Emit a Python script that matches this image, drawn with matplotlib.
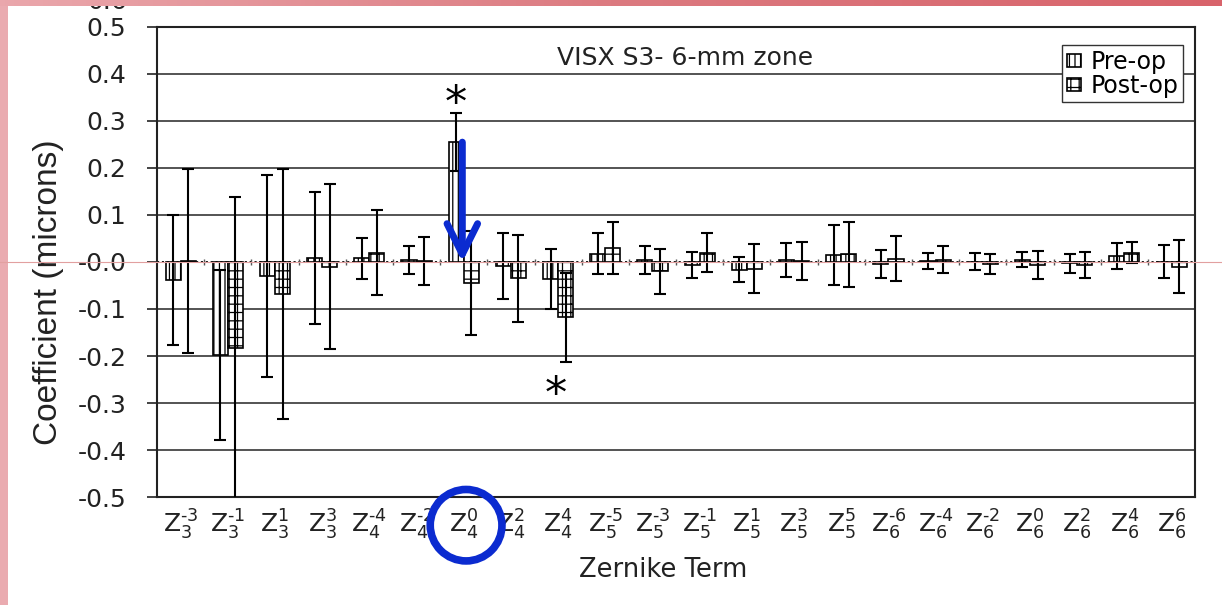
import numpy as np
import matplotlib
matplotlib.use("Agg")
import matplotlib.pyplot as plt
from matplotlib.patches import Patch, Ellipse
from matplotlib.lines import Line2D
from matplotlib.colors import LinearSegmentedColormap
from matplotlib.transforms import offset_copy

plt.rcParams['font.family'] = ['DejaVu Sans']
plt.rcParams['mathtext.fontset'] = 'dejavusans'
plt.rcParams['hatch.linewidth'] = 0.9

# ---------------- data ----------------
orders = [3, 3, 3, 3, 4, 4, 4, 4, 4, 5, 5, 5, 5, 5, 5, 6, 6, 6, 6, 6, 6, 6]
freqs = [-3, -1, 1, 3, -4, -2, 0, 2, 4, -5, -3, -1, 1, 3, 5, -6, -4, -2, 0, 2, 4, 6]
labels = [r'$\mathrm{Z}_{%d}^{\text{%d}}$' % (n, m) for n, m in zip(orders, freqs)]

pre_mean = [-0.038, -0.198, -0.030, 0.009, 0.008, 0.004, 0.255, -0.008, -0.036,
            0.018, 0.004, -0.006, -0.016, 0.004, 0.015, -0.005, 0.003, 0.001,
            0.005, -0.003, 0.013, 0.001]
pre_err = [0.138, 0.180, 0.215, 0.140, 0.044, 0.029, 0.062, 0.070, 0.063,
           0.043, 0.030, 0.028, 0.026, 0.036, 0.064, 0.030, 0.017, 0.018,
           0.016, 0.020, 0.027, 0.035]
post_mean = [0.002, -0.183, -0.068, -0.010, 0.020, 0.002, -0.045, -0.035, -0.118,
             0.030, -0.020, 0.020, -0.014, 0.002, 0.016, 0.007, 0.005, -0.004,
             -0.006, -0.007, 0.020, -0.010]
post_err = [0.196, 0.322, 0.266, 0.175, 0.090, 0.051, 0.110, 0.092, 0.095,
            0.056, 0.048, 0.042, 0.052, 0.040, 0.069, 0.048, 0.029, 0.022,
            0.030, 0.028, 0.023, 0.057]

series_names = ['Pre-op', 'Post-op']
title_text = 'VISX S3- 6-mm zone'
# significance markers: (category index, y value)
star_cat = [6, 8]
star_y = [0.351, -0.268]
yticks = np.round(np.arange(-0.5, 0.51, 0.1), 1)

# ---------------- figure ----------------
fig = plt.figure(figsize=(12.22, 6.05), dpi=100)
fig.patch.set_facecolor('white')
ax = fig.add_axes([0.1285, 0.1785, 0.8495, 0.7769])

x = np.arange(len(labels))
w = 0.32
ax.bar(x - w / 2, pre_mean, width=w, facecolor='white', edgecolor='black',
       hatch='|||', linewidth=1.2, zorder=3)
ax.bar(x + w / 2, post_mean, width=w, facecolor='white', edgecolor='black',
       hatch='++', linewidth=1.2, zorder=3)
ax.errorbar(x - w / 2, pre_mean, yerr=pre_err, fmt='none', ecolor='black',
            elinewidth=1.5, capsize=4, capthick=1.5, zorder=4)
ax.errorbar(x + w / 2, post_mean, yerr=post_err, fmt='none', ecolor='black',
            elinewidth=1.5, capsize=4, capthick=1.5, zorder=4)

ax.set_xlim(-0.5, len(labels) - 0.5)
ax.set_ylim(-0.5, 0.5)
ax.set_yticks(yticks)
ax.set_yticklabels(['%.1f' % v for v in yticks], fontsize=18)
ax.set_xticks(x)
ax.set_xticklabels(labels, fontsize=18)
ax.tick_params(axis='x', length=0, pad=8, colors='#222222')
ax.tick_params(axis='y', direction='out', length=7, width=1.2, pad=15, colors='#222222')

ax.yaxis.grid(True, color='#454545', linewidth=1.3, zorder=1)
ax.set_axisbelow(True)
for v, gl in zip(yticks, ax.get_ygridlines()):
    if abs(v) < 1e-9:
        gl.set_visible(False)
ax.axhline(0, color='black', linestyle=(0, (1.2, 1.5)), linewidth=1.3, zorder=2)
ax.plot(x[:-1] + 0.5, np.zeros(len(x) - 1), ls='none', marker='|', ms=4,
        color='#555555', zorder=2)

for s in ax.spines.values():
    s.set_linewidth(1.5)
    s.set_color('#222222')

ax.set_ylabel('Coefficient (microns)', fontsize=24, family='Liberation Sans',
              color='#222222')
ax.yaxis.set_label_coords(-0.09, 0.436)
ax.set_xlabel('Zernike Term', fontsize=18.5, color='#222222')
ax.xaxis.set_label_coords(0.4875, -0.128)

ax.text(0.509, 0.934, title_text, transform=ax.transAxes, ha='center',
        va='center', fontsize=18, color='#222222')

for c, yv, off in zip(star_cat, star_y, [-w / 2, -0.05]):
    tr = offset_copy(ax.transData, fig=fig, y=-0.45 * 32, units='points')
    ax.text(c + off, yv, '*', ha='center', va='baseline', fontsize=32,
            transform=tr)

handles = [Patch(facecolor='white', edgecolor='black', hatch='|||', lw=1.2),
           Patch(facecolor='white', edgecolor='black', hatch='++', lw=1.2)]
leg = ax.legend(handles, series_names, loc='upper right',
                bbox_to_anchor=(0.9884, 0.9617), borderaxespad=0,
                borderpad=0.2, labelspacing=0.0, handlelength=0.6,
                handleheight=0.45, handletextpad=0.4, fontsize=17,
                fancybox=False, framealpha=1, edgecolor='#333333')
leg.get_frame().set_linewidth(1.0)
leg.set_zorder(6)

# ---------------- blue annotations ----------------
blue = '#0b2bd0'
ax.annotate('', xy=(6 - 0.03, 0.0), xytext=(6 - 0.03, pre_mean[6]),
            arrowprops=dict(arrowstyle='->,head_length=1.1,head_width=0.55',
                            color=blue, lw=5, mutation_scale=20,
                            shrinkA=0, shrinkB=0), zorder=8)
circ = Ellipse((6.05, -0.06), width=1.52, height=0.152,
               transform=ax.get_xaxis_transform(), fill=False,
               edgecolor=blue, linewidth=5.5, clip_on=False, zorder=8)
ax.add_patch(circ)

# ---------------- frame decoration (pink border) ----------------
fig.text(0.104, 0.985, '0.6', fontsize=18, ha='right', va='baseline',
         color='#222222', zorder=1)
top = fig.add_axes([0, 1 - 6 / 605, 1, 6 / 605])
grad = np.linspace(0, 1, 256)[None, :]
cmap = LinearSegmentedColormap.from_list('pk', ['#eaa7ac', '#dc7a80', '#d8636b'])
top.imshow(grad, aspect='auto', cmap=cmap, extent=[0, 1, 0, 1])
top.set_axis_off()
top.set_zorder(10)
left = fig.add_axes([0, 0, 8 / 1222, 1 - 6 / 605])
left.set_facecolor('#eaabb0')
left.set_xticks([]); left.set_yticks([])
for s in left.spines.values():
    s.set_visible(False)

fig.add_artist(Line2D([0, 1], [1 - 262 / 605, 1 - 262 / 605], transform=fig.transFigure,
                      color='#e2a0a0', lw=0.8, zorder=9))

fig.savefig('out.png', dpi=100)
